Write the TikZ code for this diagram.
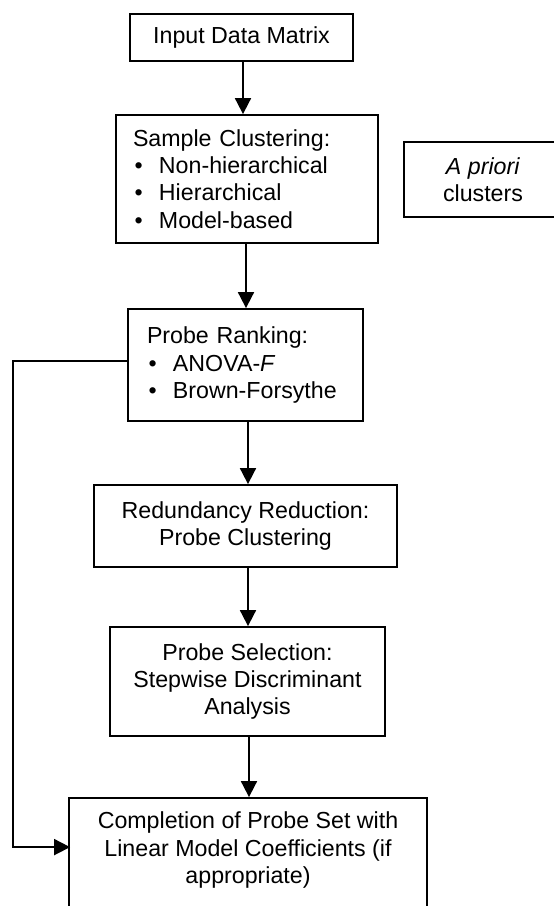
\documentclass[tikz,border=0pt]{standalone}
\usepackage{fontspec}
\setmainfont{Liberation Sans}
\usetikzlibrary{arrows.meta,calc}
\newcommand{\bulitem}{\makebox[26pt][l]{\hspace{1.5pt}•}}
\begin{document}
\begin{tikzpicture}[x=1pt,y=-1pt,
  box/.style={draw,line width=1.8pt,rectangle,inner sep=0pt,font=\fontsize{23.2}{27.2}\selectfont,align=center},
  txt/.style={inner sep=0pt,font=\fontsize{23.2}{27.2}\selectfont,align=center},
  arr/.style={line width=1.8pt,-{Triangle[length=16pt,width=16pt]}}]
\useasboundingbox (0,0) rectangle (554,906);
\clip (0,0) rectangle (554,906);
\node[box,minimum width=223pt,minimum height=47pt] (b1) at (241.5,37.5) {Input Data Matrix};
\node[box,minimum width=262pt,minimum height=128pt,text width=228pt,inner xsep=17pt,align=left] (b2) at (247,179)
  {Sample Clustering:\\ \bulitem Non-hierarchical\\ \bulitem Hierarchical\\ \bulitem Model-based};
\node[box,minimum width=158pt,minimum height=75pt] (ap) at (483,179.5) {\textit{A priori}\\clusters};
\node[box,minimum width=235pt,minimum height=112pt,text width=197pt,inner xsep=19pt,align=left] (b3) at (245.5,365)
  {Probe Ranking:\\ \bulitem ANOVA-\textit{F}\\ \bulitem Brown-Forsythe\\[-6pt]};
\node[box,minimum width=303pt,minimum height=82pt] (b4) at (245.5,526) {Redundancy Reduction:\\Probe Clustering};
\node[box,minimum width=275pt,minimum height=109pt] (b5) at (247.5,681.5) {Probe Selection:\\Stepwise Discriminant\\Analysis};
\node[box,minimum width=358pt,minimum height=140pt] (b6) at (248,868) {};
\node[txt] (b6t) at (248,850) {Completion of Probe Set with\\Linear Model Coefficients (if\\appropriate)};
\draw[arr] ($(b1.south)+(1.5,0)$) -- ($(b1.south |- b2.north)+(1.5,0)$);
\draw[arr] ($(b2.south)+(-1,0)$) -- ($(b2.south |- b3.north)+(-1,0)$);
\draw[arr] ($(b3.south)+(2.5,0)$) -- ($(b3.south |- b4.north)+(2.5,0)$);
\draw[arr] ($(b4.south)+(2.5,0)$) -- ($(b4.south |- b5.north)+(2.5,0)$);
\draw[arr] ($(b5.south)+(1.5,0)$) -- ($(b5.south |- b6.north)+(1.5,0)$);
\coordinate (fbx) at (13,0);
\coordinate (fbs) at ($(b3.west)+(0,-4)$);
\coordinate (fbe) at ($(b6.north west)+(0,50)$);
\draw[arr,shorten >=-2pt] (fbs) -- (fbs -| fbx) -- (fbx |- fbe) -- (fbe);
\end{tikzpicture}
\end{document}
